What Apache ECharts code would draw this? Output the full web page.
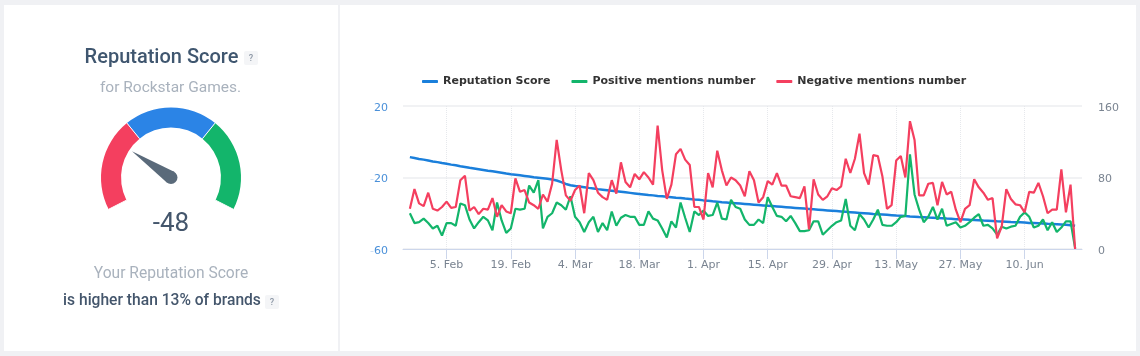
<!DOCTYPE html>
<html>
<head>
<meta charset="utf-8">
<title>Reputation Score</title>
<script src="https://cdn.jsdelivr.net/npm/echarts@6/dist/echarts.min.js"></script>
<style>
  html, body { margin: 0; padding: 0; background: #f0f1f4; }
  #chart { width: 1140px; height: 356px; }
</style>
</head>
<body>
<div id="chart"></div>
<script>
// one value per day from 28 Jan 2020
const reputationScore = [
  -8.6, -9.1, -9.6, -10.0, -10.5, -11.0, -11.4, -11.9, -12.3, -12.8,
  -13.2, -13.7, -14.1, -14.6, -15.0, -15.4, -15.8, -16.2, -16.5, -16.9,
  -17.3, -17.8, -18.2, -18.5, -18.8, -19.1, -19.4, -19.8, -20.1, -20.4,
  -20.7, -21.1, -21.7, -22.6, -23.6, -24.3, -24.8, -25.1, -25.4, -25.8,
  -26.1, -26.5, -26.8, -27.1, -27.4, -27.7, -28.0, -28.3, -28.6, -28.9,
  -29.2, -29.5, -29.8, -30.0, -30.3, -30.5, -30.8, -31.0, -31.3, -31.5,
  -31.8, -32.0, -32.3, -32.5, -32.8, -33.0, -33.3, -33.5, -33.8, -34.0,
  -34.2, -34.4, -34.6, -34.8, -35.0, -35.2, -35.4, -35.6, -35.8, -36.0,
  -36.2, -36.4, -36.6, -36.8, -37.0, -37.2, -37.4, -37.6, -37.8, -38.0,
  -38.2, -38.4, -38.6, -38.8, -39.0, -39.2, -39.4, -39.6, -39.8, -40.0,
  -40.2, -40.4, -40.5, -40.7, -40.9, -41.1, -41.3, -41.4, -41.6, -41.8,
  -41.9, -42.1, -42.2, -42.4, -42.5, -42.7, -42.8, -43.0, -43.1, -43.3,
  -43.4, -43.5, -43.7, -43.8, -43.9, -44.1, -44.2, -44.3, -44.5, -44.6,
  -44.7, -44.9, -45.0, -45.1, -45.2, -45.4, -45.5, -45.6, -45.7, -45.9,
  -46.0, -46.1, -46.3, -46.5, -46.7, -47.0
]
const positiveMentions = [
  40, 29, 30, 34, 29, 23, 26, 15, 29, 29,
  26, 51, 49, 33, 23, 30, 36, 32, 21, 52,
  32, 18, 23, 45, 44, 45, 71, 63, 77, 23,
  36, 40, 52, 49, 44, 59, 36, 30, 19, 30,
  36, 19, 29, 21, 42, 26, 35, 38, 36, 36,
  27, 27, 42, 34, 32, 23, 13, 31, 24, 52,
  35, 19, 42, 38, 43, 37, 38, 52, 34, 33,
  55, 47, 45, 33, 27, 27, 33, 29, 58, 47,
  37, 36, 31, 37, 29, 20, 20, 21, 31, 31,
  16, 21, 26, 30, 32, 56, 26, 21, 39, 33,
  24, 33, 44, 27, 26, 26, 30, 36, 37, 106,
  61, 44, 30, 36, 47, 33, 45, 26, 28, 30,
  24, 26, 30, 35, 39, 26, 27, 23, 16, 25,
  23, 25, 26, 36, 41, 36, 24, 26, 33, 21,
  30, 19, 24, 31, 31, 1
]
const negativeMentions = [
  45, 67, 51, 48, 63, 45, 43, 47, 53, 46,
  47, 77, 82, 43, 47, 39, 45, 44, 57, 36,
  49, 42, 40, 79, 64, 66, 52, 49, 45, 61,
  53, 73, 122, 88, 60, 54, 66, 71, 40, 85,
  77, 63, 58, 55, 77, 62, 97, 75, 69, 84,
  78, 86, 80, 72, 138, 88, 56, 72, 106, 112,
  100, 94, 47, 47, 33, 85, 69, 110, 88, 71,
  80, 77, 71, 59, 87, 77, 52, 58, 76, 72,
  85, 71, 71, 59, 58, 57, 70, 22, 78, 61,
  55, 59, 68, 66, 70, 101, 85, 101, 129, 85,
  72, 105, 104, 81, 45, 49, 99, 104, 80, 143,
  122, 60, 60, 73, 74, 49, 75, 61, 64, 44,
  30, 45, 49, 78, 69, 63, 55, 57, 12, 25,
  67, 56, 50, 49, 41, 64, 63, 74, 59, 40,
  44, 44, 89, 41, 72, 0
]
const tickDays = [
  [1, 5], [1, 19], [2, 4], [2, 18], [3, 1], [3, 15], [3, 29], [4, 13], [4, 27], [5, 10]
]
const monthNames = ['Jan', 'Feb', 'Mar', 'Apr', 'May', 'Jun']
const gaugeScore = -48
const seriesNames = ['Reputation Score', 'Positive mentions number', 'Negative mentions number']

const days = reputationScore.map((v, i) => new Date(2020, 0, 28 + i).getTime())
const tickValues = tickDays.map(([m, d]) => new Date(2020, m, d).getTime())
const pair = (arr) => arr.map((v, i) => [days[i], v])

const lineSeries = (name, data, color, yAxisIndex, width) => ({
  name,
  type: 'line',
  yAxisIndex,
  data: pair(data),
  showSymbol: false,
  symbol: 'none',
  lineStyle: { color, width },
  itemStyle: { color },
  emphasis: { disabled: true },
})

const panel = (x, width) => ({
  type: 'rect',
  z: -10,
  silent: true,
  shape: { x, y: 5, width, height: 346 },
  style: { fill: '#fff' },
})
const label = (x, y, text, fontSize, color, fontWeight, textAlign) => ({
  type: 'text',
  x,
  y,
  silent: true,
  style: {
    text,
    fill: color,
    font: `${fontWeight || 400} ${fontSize}px Roboto`,
    textAlign: textAlign || 'center',
    textVerticalAlign: 'middle',
  },
})
const hint = (x, y) => [
  {
    type: 'rect',
    silent: true,
    shape: { x, y, width: 14, height: 14, r: 2 },
    style: { fill: '#f4f5f7' },
  },
  label(x + 7, y + 7.5, '?', 9, '#8a95a3', 500),
]

const chart = echarts.init(document.getElementById('chart'))
chart.setOption({
  backgroundColor: '#f0f1f4',
  animation: false,
  graphic: [
    panel(4, 334),
    panel(340, 796),
    label(161.5, 58, 'Reputation Score', 20, '#3f566f', 500),
    ...hint(244, 51),
    label(170.5, 88, 'for Rockstar Games.', 15.5, '#a9b2bd'),
    label(171, 274, 'Your Reputation Score', 15.6, '#a9b2bd'),
    label(162, 301, 'is higher than 13% of brands', 15.6, '#44566c', 500),
    ...hint(265, 295),
  ],
  legend: {
    left: 417,
    top: 71,
    icon: 'roundRect',
    itemWidth: 16,
    itemHeight: 3,
    itemGap: 21,
    data: seriesNames,
    selectedMode: false,
    textStyle: {
      fontFamily: 'DejaVu Sans',
      fontSize: 11,
      fontWeight: 'bold',
      color: '#333',
    },
  },
  grid: { left: 403, right: 58, top: 106, bottom: 107 },
  xAxis: {
    type: 'value',
    min: new Date(2020, 0, 26, 12).getTime(),
    max: new Date(2020, 5, 22, 12).getTime(),
    axisLine: { onZero: false, lineStyle: { color: '#ccd6eb', width: 1 } },
    axisTick: { customValues: tickValues, length: 10, lineStyle: { color: '#ccd6eb' } },
    axisLabel: {
      customValues: tickValues,
      hideOverlap: false,
      margin: 11,
      color: '#7a8491',
      fontFamily: 'DejaVu Sans',
      fontSize: 11,
      formatter(value) {
        const d = new Date(value)
        return `${d.getDate()}. ${monthNames[d.getMonth()]}`
      },
    },
    splitLine: {
      show: true,
      lineStyle: { color: '#e6e8ec', type: 'dotted', width: 1 },
    },
  },
  yAxis: [
    {
      type: 'value',
      min: -60,
      max: 20,
      interval: 40,
      axisLine: { show: false },
      axisTick: { show: false },
      splitLine: { lineStyle: { color: '#f1f2f4', width: 2 } },
      axisLabel: {
        margin: 15,
        padding: [4, 0, 0, 0],
        fontFamily: 'DejaVu Sans',
        fontSize: 11,
        color: '#4a90d9',
        formatter(value) {
          return value < 0 ? `{minus|-}{num|${-value}}` : `{num|${value}}`
        },
        rich: {
          minus: { color: '#c6dcf3', fontFamily: 'DejaVu Sans', fontSize: 11 },
          num: { color: '#4a90d9', fontFamily: 'DejaVu Sans', fontSize: 11 },
        },
      },
    },
    {
      type: 'value',
      min: 0,
      max: 160,
      interval: 80,
      position: 'right',
      axisLine: { show: false },
      axisTick: { show: false },
      splitLine: { show: false },
      axisLabel: {
        margin: 16,
        padding: [4, 0, 0, 0],
        fontFamily: 'DejaVu Sans',
        fontSize: 11,
        color: '#7a8491',
        formatter: '{num|{value}}',
        rich: {
          num: { color: '#7a8491', fontFamily: 'DejaVu Sans', fontSize: 11 },
        },
      },
    },
  ],
  series: [
    lineSeries(seriesNames[0], reputationScore, '#1a7fdb', 0, 2.5),
    lineSeries(seriesNames[1], positiveMentions, '#13b56b', 1, 2.2),
    lineSeries(seriesNames[2], negativeMentions, '#f43f5f', 1, 2.2),
    {
      type: 'gauge',
      center: [171, 177.5],
      radius: 70,
      startAngle: 207,
      endAngle: -27,
      min: -100,
      max: 100,
      silent: true,
      axisLine: {
        lineStyle: {
          width: 20,
          color: [[1 / 3, '#f43f5f'], [2 / 3, '#2b84e6'], [1, '#13b56b']],
        },
      },
      axisTick: { show: false },
      splitLine: {
        show: true,
        distance: -20,
        length: 20,
        lineStyle: { color: '#fff', width: 1 },
      },
      axisLabel: { show: false },
      pointer: {
        icon: 'triangle',
        width: 13,
        length: 47,
        offsetCenter: [0, 0],
        itemStyle: { color: '#5a6a7a' },
      },
      anchor: {
        show: true,
        size: 13,
        showAbove: true,
        itemStyle: { color: '#5a6a7a', borderWidth: 0 },
      },
      splitNumber: 3,
      title: { show: false },
      detail: {
        offsetCenter: [0, 47],
        formatter: '{value}',
        color: '#44566c',
        fontFamily: 'Roboto',
        fontSize: 26,
        fontWeight: 400,
      },
      data: [{ value: gaugeScore }],
    },
  ],
})
</script>
</body>
</html>
